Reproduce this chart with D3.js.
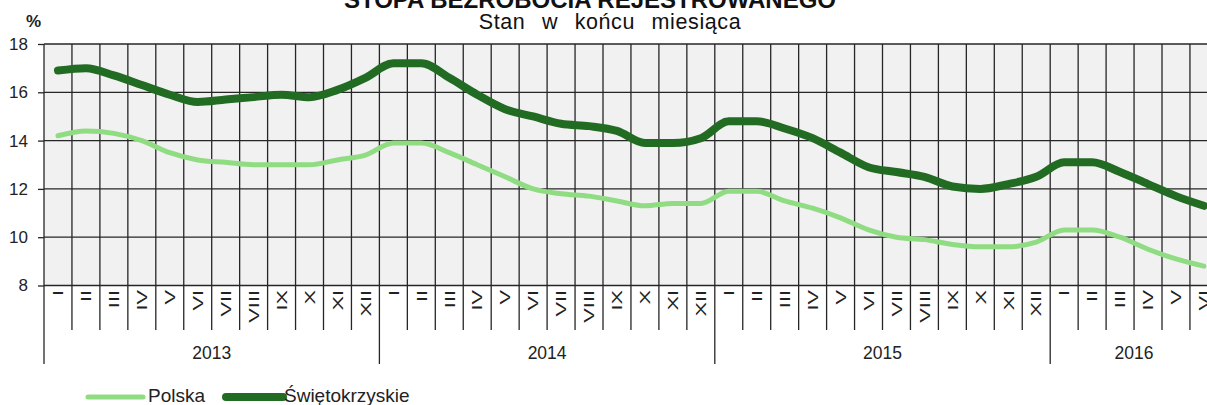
<!DOCTYPE html>
<html>
<head>
<meta charset="UTF-8">
<title>Stopa bezrobocia rejestrowanego</title>
<style>
  body { margin: 0; background: #ffffff; }
  svg { display: block; font-family: "Liberation Sans", Arial, sans-serif; }
</style>
</head>
<body>
<svg id="chart" width="1207" height="405"></svg>
<script src="https://d3js.org/d3.v7.min.js"></script>
<script>
// month labels and years
var months = ["I", "II", "III", "IV", "V", "VI", "VII", "VIII", "IX", "X", "XI", "XII"];
var years = ["2013", "2014", "2015", "2016"];
var monthsInYear = [12, 12, 12, 6];
var yTicks = [8, 10, 12, 14, 16, 18];

// unemployment rate, end of month (%)
var polska = [
  14.2, 14.4, 14.3, 14.0, 13.5, 13.2, 13.1, 13.0, 13.0, 13.0, 13.2, 13.4,
  13.9, 13.9, 13.5, 13.0, 12.5, 12.0, 11.8, 11.7, 11.5, 11.3, 11.4, 11.4,
  11.9, 11.9, 11.5, 11.2, 10.8, 10.3, 10.0, 9.9, 9.7, 9.6, 9.6, 9.8,
  10.3, 10.3, 10.0, 9.5, 9.1, 8.8
];
var swietokrzyskie = [
  16.9, 17.0, 16.7, 16.3, 15.9, 15.6, 15.7, 15.8, 15.9, 15.8, 16.1, 16.6,
  17.2, 17.2, 16.6, 15.9, 15.3, 15.0, 14.7, 14.6, 14.4, 13.9, 13.9, 14.1,
  14.8, 14.8, 14.5, 14.1, 13.5, 12.9, 12.7, 12.5, 12.1, 12.0, 12.2, 12.5,
  13.1, 13.1, 12.7, 12.2, 11.7, 11.3
];

var svg = d3.select("#chart");

var plotLeft = 44, plotTop = 44, plotBottom = 285.5, step = 27.95;
var n = polska.length;

// build list of periods
var periods = [];
years.forEach(function(yr, yi) {
  for (var m = 0; m < monthsInYear[yi]; m++) periods.push({ year: yr, month: months[m], yi: yi });
});

var x = d3.scaleBand()
  .domain(d3.range(n))
  .range([plotLeft, plotLeft + n * step])
  .paddingInner(0).paddingOuter(0);

var y = d3.scaleLinear()
  .domain([8, 18])
  .range([plotBottom, plotTop]);

// plot background
svg.append("rect")
  .attr("x", plotLeft).attr("y", plotTop)
  .attr("width", n * step).attr("height", plotBottom - plotTop)
  .attr("fill", "#f1f1f1");

var gridColor = "#262626";

// y axis
var yAxis = d3.axisLeft(y).tickValues(yTicks).tickSize(6).tickPadding(10);
var gy = svg.append("g").attr("transform", "translate(" + plotLeft + ",0)").call(yAxis);
gy.select(".domain").remove();
gy.selectAll("line").attr("stroke", gridColor).attr("stroke-width", 1.3);
gy.selectAll("text")
  .attr("font-size", 17)
  .attr("fill", "#222")
  .attr("font-family", "Liberation Sans, Arial, sans-serif");

// horizontal grid
svg.append("g").selectAll("line")
  .data(yTicks)
  .join("line")
  .attr("x1", plotLeft).attr("x2", plotLeft + n * step)
  .attr("y1", function(d) { return y(d); })
  .attr("y2", function(d) { return y(d); })
  .attr("stroke", gridColor).attr("stroke-width", 1.3);

// vertical lines at each month boundary
var bounds = d3.range(n + 1);
var yearStarts = [0];
monthsInYear.reduce(function(acc, c) { yearStarts.push(acc + c); return acc + c; }, 0);

svg.append("g").selectAll("line")
  .data(bounds)
  .join("line")
  .attr("x1", function(i) { return plotLeft + i * step; })
  .attr("x2", function(i) { return plotLeft + i * step; })
  .attr("y1", plotTop)
  .attr("y2", function(i) { return yearStarts.indexOf(i) >= 0 ? 364 : 330; })
  .attr("stroke", gridColor).attr("stroke-width", 1.3);

// month labels (rotated, stretched along the reading direction)
svg.append("g").selectAll("text")
  .data(periods)
  .join("text")
  .attr("transform", function(d, i) {
    return "translate(" + (x(i) + x.bandwidth() / 2) + ",290) rotate(-90) scale(1.45,1)";
  })
  .attr("text-anchor", "end")
  .attr("dy", "0.35em")
  .attr("font-size", 15)
  .attr("fill", "#222")
  .text(function(d) { return d.month; });

// year labels
svg.append("g").selectAll("text")
  .data(years)
  .join("text")
  .attr("x", function(d, i) {
    var a = plotLeft + yearStarts[i] * step, b = plotLeft + yearStarts[i + 1] * step;
    return (a + b) / 2;
  })
  .attr("y", 359)
  .attr("text-anchor", "middle")
  .attr("font-size", 17.5)
  .attr("fill", "#222")
  .text(function(d) { return d; });

// lines
var line = d3.line()
  .x(function(d, i) { return x(i) + x.bandwidth() / 2; })
  .y(function(d) { return y(d); })
  .curve(d3.curveMonotoneX);

var series = [
  { name: "Polska", values: polska, color: "#90dc82", width: 5 },
  { name: "Świętokrzyskie", values: swietokrzyskie, color: "#226b22", width: 8 }
];

svg.append("g").selectAll("path")
  .data(series)
  .join("path")
  .attr("d", function(s) { return line(s.values); })
  .attr("fill", "none")
  .attr("stroke", function(s) { return s.color; })
  .attr("stroke-width", function(s) { return s.width; })
  .attr("stroke-linecap", "round")
  .attr("stroke-linejoin", "round");

// titles
svg.append("text")
  .attr("x", 590).attr("y", 8)
  .attr("text-anchor", "middle")
  .attr("font-size", 24).attr("font-weight", "bold")
  .attr("fill", "#111")
  .text("STOPA BEZROBOCIA REJESTROWANEGO");

svg.append("text")
  .attr("x", 610).attr("y", 28.5)
  .attr("text-anchor", "middle")
  .attr("font-size", 21.5)
  .attr("letter-spacing", 0.6)
  .attr("word-spacing", 10)
  .attr("fill", "#111")
  .text("Stan w końcu miesiąca");

svg.append("text")
  .attr("x", 33.5).attr("y", 26.5)
  .attr("text-anchor", "middle")
  .attr("font-size", 17).attr("font-weight", "bold")
  .attr("fill", "#222")
  .text("%");

// legend
var legendPos = [{ x1: 88, x2: 143, tx: 148 }, { x1: 226, x2: 283, tx: 284 }];
var lg = svg.append("g").selectAll("g")
  .data(series)
  .join("g");
lg.append("line")
  .attr("x1", function(d, i) { return legendPos[i].x1; })
  .attr("x2", function(d, i) { return legendPos[i].x2; })
  .attr("y1", 397).attr("y2", 397)
  .attr("stroke", function(d) { return d.color; })
  .attr("stroke-width", function(d) { return d.width; })
  .attr("stroke-linecap", "round");
lg.append("text")
  .attr("x", function(d, i) { return legendPos[i].tx; })
  .attr("y", 402)
  .attr("font-size", 19)
  .attr("fill", "#222")
  .text(function(d) { return d.name; });
</script>
</body>
</html>
